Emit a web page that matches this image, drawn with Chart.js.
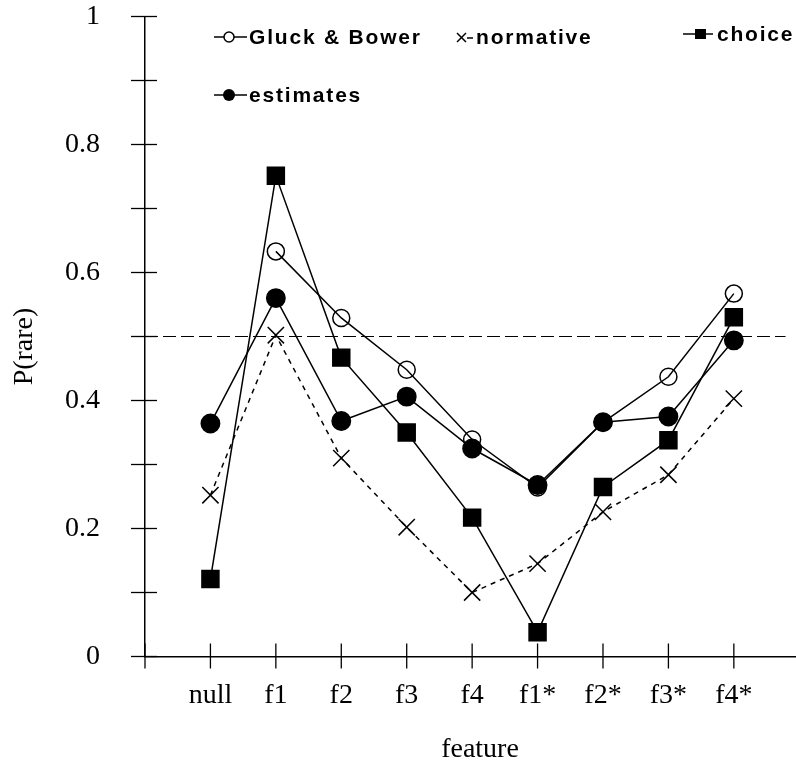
<!DOCTYPE html>
<html><head><meta charset="utf-8">
<script src="https://cdn.jsdelivr.net/npm/chart.js@4"></script>
<style>html,body{margin:0;padding:0;background:#fff;}canvas{display:block;}</style>
</head><body>
<canvas id="c" width="796" height="761"></canvas>
<script>
const categories = ['null','f1','f2','f3','f4','f1*','f2*','f3*','f4*'];
const gluckBower = [null, 0.633, 0.529, 0.448, 0.339, 0.264, 0.366, 0.437, 0.567];
const normative  = [0.252, 0.502, 0.310, 0.202, 0.100, 0.145, 0.226, 0.284, 0.403];
const choice     = [0.121, 0.751, 0.467, 0.350, 0.217, 0.038, 0.265, 0.338, 0.530];
const estimates  = [0.364, 0.560, 0.368, 0.406, 0.325, 0.268, 0.366, 0.375, 0.494];
const referenceLevel = 0.5;
const seriesNames = ['Gluck & Bower', 'normative', 'choice', 'estimates'];
const xTitle = 'feature';
const yTitle = 'P(rare)';

function toPoints(arr){
  return arr.map((v,i)=> v===null ? null : {x:i, y:v}).filter(p=>p!==null);
}

const serif = '"Liberation Serif", "Times New Roman", serif';
const sans = '"Liberation Sans", Arial, sans-serif';

function line(ctx,x1,y1,x2,y2){ctx.beginPath();ctx.moveTo(x1,y1);ctx.lineTo(x2,y2);ctx.stroke();}

const decor = {
  id:'decor',
  afterDraw(chart){
    const ctx = chart.ctx, xs = chart.scales.x, ys = chart.scales.y;
    ctx.save();
    ctx.strokeStyle = '#000'; ctx.fillStyle = '#000'; ctx.lineWidth = 1.3;
    const ax = xs.left, ay = ys.bottom;
    ys.ticks.forEach(t=>{ const py = ys.getPixelForValue(t.value); line(ctx, ax-14, py, ax+12, py); });
    xs.ticks.forEach(t=>{ const px = xs.getPixelForValue(t.value); line(ctx, px, ay-13, px, ay+12); });
    // axis titles
    ctx.font = '28px ' + serif;
    ctx.textAlign = 'center'; ctx.textBaseline = 'alphabetic';
    ctx.fillText(xTitle, 480, 757);
    ctx.save();
    ctx.translate(32, 346.5); ctx.rotate(-Math.PI/2);
    ctx.fillText(yTitle, 0, 0);
    ctx.restore();
    // legend
    ctx.font = 'bold 21px ' + sans;
    ctx.textAlign = 'left'; ctx.textBaseline = 'middle';
    try { ctx.letterSpacing = '1.8px'; } catch(e) {}
    ctx.lineWidth = 1.5;
    line(ctx, 214, 37, 247, 37);
    ctx.beginPath(); ctx.arc(229, 37, 5, 0, Math.PI*2); ctx.fillStyle='#fff'; ctx.fill(); ctx.stroke();
    ctx.fillStyle = '#000';
    ctx.fillText(seriesNames[0], 249, 38);
    line(ctx, 457, 33, 466, 42); line(ctx, 457, 42, 466, 33);
    line(ctx, 467, 38, 473, 38);
    ctx.fillText(seriesNames[1], 476, 38);
    line(ctx, 683, 34, 713, 34);
    ctx.fillRect(695, 29, 11, 10);
    ctx.fillText(seriesNames[2], 717, 35);
    line(ctx, 214, 95, 247, 95);
    ctx.beginPath(); ctx.arc(229, 95, 6, 0, Math.PI*2); ctx.fill();
    ctx.fillText(seriesNames[3], 249, 96);
    ctx.restore();
  }
};

const common = {showLine:true, borderColor:'#000', borderWidth:1.5, tension:0, clip:false,
  pointBorderColor:'#000', pointBorderWidth:1.5, pointHoverRadius:0};

new Chart(document.getElementById('c'), {
  type:'scatter',
  data:{datasets:[
    Object.assign({}, common, {label:'reference', data:[{x:-1,y:referenceLevel},{x:8.79,y:referenceLevel}],
      borderWidth:1.2, borderDash:[13,5], pointRadius:0}),
    Object.assign({}, common, {label:seriesNames[1], data:toPoints(normative), borderDash:[5,5],
      pointStyle:'crossRot', pointRadius:11.5, pointBackgroundColor:'#000'}),
    Object.assign({}, common, {label:seriesNames[0], data:toPoints(gluckBower),
      pointStyle:'circle', pointRadius:8.5, pointBackgroundColor:'rgba(0,0,0,0)'}),
    Object.assign({}, common, {label:seriesNames[2], data:toPoints(choice),
      pointStyle:'rect', pointRadius:12, pointBackgroundColor:'#000'}),
    Object.assign({}, common, {label:seriesNames[3], data:toPoints(estimates),
      pointStyle:'circle', pointRadius:9.2, pointBackgroundColor:'#000'})
  ]},
  options:{
    responsive:false, animation:false, devicePixelRatio:1,
    events:[],
    layout:{autoPadding:false, padding:{top:16.5, right:0, left:0, bottom:0}},
    plugins:{legend:{display:false}, tooltip:{enabled:false}},
    scales:{
      x:{type:'linear', min:-1, max:8.95,
        grid:{display:false}, border:{display:true, color:'#000', width:1.5},
        afterBuildTicks(s){ s.ticks = categories.map((c,i)=>({value:i})); s.ticks.unshift({value:-1}); },
        afterFit(s){ s.height = 104.5; s.paddingLeft = 0; s.paddingRight = 0; },
        ticks:{autoSkip:false, maxRotation:0, padding:14, color:'#000',
          font:{family:serif, size:28},
          callback(v){ return v>=0 && v<categories.length ? categories[v] : ''; }}
      },
      y:{type:'linear', min:0, max:1,
        grid:{display:false}, border:{display:true, color:'#000', width:1.5},
        afterFit(s){ s.width = 145; s.paddingTop = 0; s.paddingBottom = 0; },
        ticks:{stepSize:0.1, padding:37, color:'#000', font:{family:serif, size:28},
          callback(v){ const k = Math.round(v*10); return k%2===0 ? String(k/10) : ''; }}
      }
    }
  },
  plugins:[decor]
});
</script>
</body></html>
